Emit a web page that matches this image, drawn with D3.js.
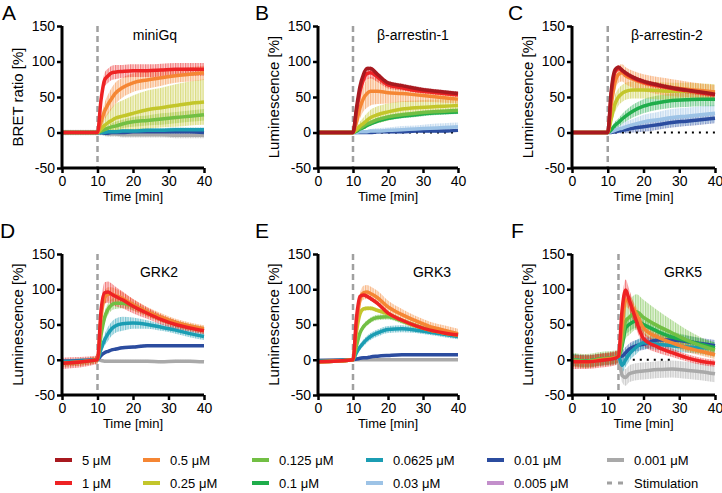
<!DOCTYPE html>
<html><head><meta charset="utf-8">
<script src="https://cdn.jsdelivr.net/npm/d3@7"></script>
<style>
body{margin:0;background:#fff;}
svg{display:block;font-family:"Liberation Sans",Arial,sans-serif;}
</style></head>
<body><svg id="chart" width="722" height="493"></svg>
<script>
// ---------- DATA ----------
const concentrations = ["5 μM","1 μM","0.5 μM","0.25 μM","0.125 μM","0.1 μM","0.0625 μM","0.03 μM","0.01 μM","0.005 μM","0.001 μM"];
const xTicks = [0,10,20,30,40];
const yTicks = [-50,0,50,100,150];
const timesMain = [0,10,11,12,13,14,15,17,20,24,28,32,36,40];
const timesGRK5 = [0,4,8,12,13,14,15,16,18,20,24,28,32,36,40];

const miniGqValues = {
  "1 μM":     [0,0,46,74,80,84,85,86,87,87,88,89,89,89],
  "0.5 μM":   [0,0,15,30,40,48,55,63,70,74,77,80,82,84],
  "0.25 μM":  [0,0,5,10,14,17,20,23,27,32,35,38,41,43],
  "0.125 μM": [0,0,2,4,6,8,9,12,15,17,19,21,23,25],
  "0.0625 μM":[0,0,0,0,1,1,1,2,2,3,3,4,4,4],
  "0.01 μM":  [0,0,0,-1,-1,0,0,0,1,1,1,1,1,0],
  "0.001 μM": [0,0,0,-1,-2,-2,-2,-3,-3,-3,-3,-4,-4,-4]
};
const miniGqErrors = {
  "1 μM":     [2,2,8,10,10,10,10,9,9,9,9,9,9,9],
  "0.5 μM":   [2,2,8,12,14,15,15,14,13,12,11,10,10,10],
  "0.25 μM":  [2,2,5,10,15,18,20,22,25,27,28,30,31,32],
  "0.125 μM": [2,2,2,3,4,5,6,6,7,7,8,8,8,8],
  "0.0625 μM":[3,3,3,3,3,3,3,3,3,3,3,3,3,3],
  "0.01 μM":  [3,3,3,3,3,3,3,3,3,3,3,3,3,3],
  "0.001 μM": [4,4,4,4,4,4,4,4,4,4,4,4,4,4]
};
const arr1Values = {
  "5 μM":     [0,0,35,65,82,90,90,82,70,66,62,59,57,55],
  "1 μM":     [0,0,30,58,75,83,84,78,67,63,59,57,55,53],
  "0.5 μM":   [0,0,15,35,48,55,58,58,56,55,53,51,49,47],
  "0.25 μM":  [0,0,4,9,13,17,21,25,29,33,35,36,37,38],
  "0.125 μM": [0,0,3,6,9,12,14,18,22,25,27,29,30,31],
  "0.1 μM":   [0,0,2,5,7,10,12,16,20,23,25,27,28,29],
  "0.03 μM":  [0,0,0,1,1,1,2,2,3,4,5,6,7,8],
  "0.01 μM":  [0,0,0,0,0,0,0,1,1,1,2,2,2,3]
};
const arr1Errors = {
  "5 μM":     [0,0,3,3,3,3,3,3,3,3,3,3,3,3],
  "1 μM":     [0,0,5,8,8,8,8,7,5,4,3,3,3,3],
  "0.5 μM":   [0,0,8,15,18,20,20,18,15,12,10,8,7,6],
  "0.25 μM":  [0,0,3,6,8,10,11,12,12,11,10,10,10,10],
  "0.125 μM": [0,0,2,3,3,3,3,3,3,3,3,3,3,3],
  "0.1 μM":   [0,0,2,3,3,3,3,3,3,3,3,3,3,3],
  "0.03 μM":  [0,0,1,2,2,3,3,4,4,5,5,6,6,6],
  "0.01 μM":  [0,0,1,1,2,2,2,2,2,2,2,2,2,2]
};
const arr2Values = {
  "5 μM":     [0,0,60,88,92,88,84,78,72,67,63,60,57,54],
  "1 μM":     [0,0,55,85,90,87,83,77,71,66,62,59,56,53],
  "0.5 μM":   [0,0,40,70,82,84,80,75,70,66,63,61,59,57],
  "0.25 μM":  [0,0,20,40,50,55,58,60,60,59,58,58,57,56],
  "0.1 μM":   [0,0,4,10,14,19,23,30,37,42,45,46,47,47],
  "0.03 μM":  [0,0,1,3,5,6,8,11,15,18,21,23,25,27],
  "0.01 μM":  [0,0,0,1,2,3,4,6,8,11,14,16,18,20]
};
const arr2Errors = {
  "5 μM":     [0,0,3,3,3,3,3,3,3,3,3,3,3,3],
  "1 μM":     [0,0,4,4,4,4,4,4,4,4,4,4,4,4],
  "0.5 μM":   [0,0,10,12,12,12,12,12,12,12,12,11,10,10],
  "0.25 μM":  [0,0,8,12,12,12,12,12,12,12,12,12,12,12],
  "0.1 μM":   [0,0,3,5,6,7,8,9,10,10,10,10,10,10],
  "0.03 μM":  [0,0,2,4,5,6,7,8,10,11,12,12,12,12],
  "0.01 μM":  [0,0,1,2,3,4,5,6,7,7,7,7,7,7]
};
const grk2Values = {
  "1 μM":     [-5,0,70,95,96,93,90,85,76,66,57,50,45,41],
  "0.5 μM":   [-5,0,60,88,93,93,91,87,78,68,60,53,48,44],
  "0.125 μM": [-5,0,35,60,72,78,80,80,76,67,58,51,46,42],
  "0.0625 μM":[-3,0,15,28,37,44,48,51,52,50,46,42,37,33],
  "0.01 μM":  [-2,0,6,10,12,14,15,17,18,20,20,20,20,20],
  "0.001 μM": [-2,0,-1,-2,-2,-2,-2,-2,-2,-2,-3,-2,-2,-3]
};
const grk2Errors = {
  "1 μM":     [8,6,10,15,15,15,14,12,10,8,7,6,5,5],
  "0.5 μM":   [5,5,8,10,10,10,10,9,8,7,6,5,5,5],
  "0.125 μM": [5,5,8,8,8,8,8,7,6,5,5,5,5,5],
  "0.0625 μM":[3,3,5,8,10,10,10,10,8,6,5,5,5,5],
  "0.01 μM":  [2,2,2,2,2,2,2,2,2,2,2,2,2,2],
  "0.001 μM": [2,2,2,2,2,2,2,2,2,2,2,2,2,2]
};
const grk3Values = {
  "1 μM":     [-3,0,60,90,92,90,87,80,66,56,48,42,38,35],
  "0.5 μM":   [-3,0,50,85,95,96,94,88,75,64,55,47,42,37],
  "0.25 μM":  [-3,0,40,65,72,73,73,70,65,56,48,42,38,35],
  "0.125 μM": [-3,0,20,38,47,52,56,60,61,55,48,42,38,35],
  "0.0625 μM":[-2,0,10,18,24,29,33,38,43,44,42,39,36,33],
  "0.01 μM":  [-1,0,1,2,3,3,4,5,6,7,7,7,7,7],
  "0.001 μM": [-1,0,0,0,0,0,0,0,0,0,0,0,0,0]
};
const grk3Errors = {
  "1 μM":     [2,2,3,3,3,3,3,3,3,3,3,3,3,3],
  "0.5 μM":   [2,2,6,8,10,10,10,10,9,8,7,7,7,7],
  "0.25 μM":  [2,2,3,3,3,3,3,3,3,3,3,3,3,3],
  "0.125 μM": [2,2,4,4,4,4,4,4,4,4,4,4,4,4],
  "0.0625 μM":[2,2,3,4,5,5,5,5,5,5,4,4,4,4],
  "0.01 μM":  [1,1,1,1,1,1,1,1,1,1,1,1,1,1],
  "0.001 μM": [1,1,1,1,1,1,1,1,1,1,1,1,1,1]
};
const grk5Values = {
  "1 μM":     [-3,-3,-1,2,5,70,99,85,55,30,18,10,3,-2,-5],
  "0.5 μM":   [-2,-3,0,3,5,45,85,82,65,45,32,24,17,12,7],
  "0.125 μM": [0,-2,1,3,5,25,55,60,68,60,48,38,28,20,14],
  "0.1 μM":   [0,-2,1,3,5,20,45,50,55,50,40,32,27,22,17],
  "0.0625 μM":[0,-2,0,3,5,-8,0,8,18,24,22,20,18,17,17],
  "0.01 μM":  [0,-2,0,2,4,5,10,15,20,22,28,28,26,23,20],
  "0.001 μM": [0,-2,0,2,3,-22,-25,-20,-17,-16,-14,-13,-15,-17,-20]
};
const grk5Errors = {
  "1 μM":     [10,10,10,10,10,15,15,15,12,10,8,6,5,5,5],
  "0.5 μM":   [8,8,8,8,8,10,10,10,10,8,7,6,6,6,6],
  "0.125 μM": [10,10,10,10,10,20,25,25,25,25,22,18,15,12,10],
  "0.1 μM":   [8,8,8,8,8,10,10,10,10,10,8,8,8,8,8],
  "0.0625 μM":[8,8,8,8,8,10,10,10,10,8,8,8,8,8,8],
  "0.01 μM":  [8,8,8,8,8,8,8,8,8,8,8,8,8,8,8],
  "0.001 μM": [8,8,8,8,8,10,12,12,12,12,12,12,12,12,12]
};

// ---------- STYLE ----------
const palette = {
  "5 μM":"#a8191f","1 μM":"#ee2224","0.5 μM":"#f58634","0.25 μM":"#c3c62b",
  "0.125 μM":"#72bf44","0.1 μM":"#1fad4b","0.0625 μM":"#1b9db3","0.03 μM":"#9dc3e6",
  "0.01 μM":"#2b4c9f","0.005 μM":"#c38fcb","0.001 μM":"#a9a9a9"
};

const panels = [
  {letter:"A",title:"miniGq",ylabel:"BRET ratio [%]",vals:miniGqValues,errs:miniGqErrors,times:timesMain,stim:10,dots:null,x0:62,x1:204,y0:26,y1:168,lx:2,ly:20,tx:155,ty:40},
  {letter:"B",title:"β-arrestin-1",ylabel:"Luminescence [%]",vals:arr1Values,errs:arr1Errors,times:timesMain,stim:10,dots:[12,40],x0:318,x1:458,y0:26,y1:168,lx:255,ly:20,tx:413,ty:40},
  {letter:"C",title:"β-arrestin-2",ylabel:"Luminescence [%]",vals:arr2Values,errs:arr2Errors,times:timesMain,stim:10,dots:[12,40],x0:572,x1:715,y0:26,y1:168,lx:508,ly:20,tx:667,ty:40},
  {letter:"D",title:"GRK2",ylabel:"Luminescence [%]",vals:grk2Values,errs:grk2Errors,times:timesMain,stim:10,dots:null,x0:62,x1:204,y0:254,y1:395,lx:0,ly:238,tx:159,ty:277},
  {letter:"E",title:"GRK3",ylabel:"Luminescence [%]",vals:grk3Values,errs:grk3Errors,times:timesMain,stim:10,dots:null,x0:318,x1:458,y0:254,y1:395,lx:255,ly:238,tx:432,ty:277},
  {letter:"F",title:"GRK5",ylabel:"Luminescence [%]",vals:grk5Values,errs:grk5Errors,times:timesGRK5,stim:13,dots:[17,28],x0:572,x1:715,y0:254,y1:395,lx:511,ly:238,tx:683,ty:277}
];

const svg = d3.select("#chart");
const defs = svg.append("defs");
concentrations.forEach((c,i) => {
  const pat = defs.append("pattern").attr("id","stripe"+i).attr("patternUnits","userSpaceOnUse")
    .attr("width",2.5).attr("height",10);
  pat.append("rect").attr("width",2.5).attr("height",10).attr("fill",palette[c]).attr("fill-opacity",0.18);
  pat.append("rect").attr("width",1.2).attr("height",10).attr("fill",palette[c]).attr("fill-opacity",0.5);
});

const fmt = d => d < 0 ? "-" + Math.abs(d) : String(d);

panels.forEach(p => {
  const x = d3.scaleLinear().domain([0,40]).range([p.x0,p.x1]);
  const y = d3.scaleLinear().domain([-50,150]).range([p.y1,p.y0]);
  const g = svg.append("g");

  const order = concentrations.slice().reverse().filter(c => p.vals[c]);
  order.forEach(c => {
    const pts = p.times.map((t,i)=>({t, v:p.vals[c][i], e:p.errs[c][i]}));
    g.append("path").datum(pts)
      .attr("d", d3.area().x(d=>x(d.t)).y0(d=>y(d.v-d.e)).y1(d=>y(d.v+d.e)).curve(d3.curveMonotoneX))
      .attr("fill", `url(#stripe${concentrations.indexOf(c)})`);
  });
  g.append("line").attr("x1",x(p.stim)).attr("x2",x(p.stim)).attr("y1",p.y0).attr("y2",p.y1)
    .attr("stroke","#a0a0a0").attr("stroke-width",2.5).attr("stroke-dasharray","6,4");
  if (p.dots) {
    g.append("line").attr("x1",x(p.dots[0])).attr("x2",x(p.dots[1])).attr("y1",y(0)).attr("y2",y(0))
      .attr("stroke","#000").attr("stroke-width",2).attr("stroke-dasharray","2,5");
  }
  order.forEach(c => {
    const pts = p.times.map((t,i)=>({t, v:p.vals[c][i]}));
    g.append("path").datum(pts)
      .attr("d", d3.line().x(d=>x(d.t)).y(d=>y(d.v)).curve(d3.curveMonotoneX))
      .attr("fill","none").attr("stroke", palette[c]).attr("stroke-width",3.5)
      .attr("stroke-linejoin","round");
  });

  const xa = g.append("g").attr("transform",`translate(0,${p.y1})`)
    .call(d3.axisBottom(x).tickValues(xTicks).tickFormat(fmt).tickSize(5).tickPadding(3));
  const ya = g.append("g").attr("transform",`translate(${p.x0},0)`)
    .call(d3.axisLeft(y).tickValues(yTicks).tickFormat(fmt).tickSize(5).tickPadding(2));
  [xa,ya].forEach(a => {
    a.select(".domain").attr("stroke","#000").attr("stroke-width",3);
    a.selectAll(".tick line").attr("stroke","#000").attr("stroke-width",2.5);
    a.selectAll(".tick text").attr("font-size",14).attr("fill","#000")
      .attr("font-family","'Liberation Sans',Arial,sans-serif");
  });
  xa.select(".domain").attr("d",`M${p.x0},0H${p.x1}`);
  ya.select(".domain").attr("d",`M0,${p.y1}V${p.y0}`);

  g.append("text").attr("x",(p.x0+p.x1)/2).attr("y",p.y1+33).attr("text-anchor","middle")
    .attr("font-size",13).text("Time [min]");
  g.append("text").attr("transform",`translate(${p.x0-39},${(p.y0+p.y1)/2}) rotate(-90)`)
    .attr("text-anchor","middle").attr("font-size",15).text(p.ylabel);
  g.append("text").attr("x",p.tx).attr("y",p.ty).attr("text-anchor","middle")
    .attr("font-size",14).text(p.title);
  g.append("text").attr("x",p.lx).attr("y",p.ly).attr("font-size",21).text(p.letter);
});

const legendItems = concentrations.concat(["Stimulation"]);
const colX = [55,143,252,366,487,607];
const rowY = [460,483];
legendItems.forEach((c,i) => {
  const col = Math.floor(i/2), row = i%2;
  const lx = colX[col], ly = rowY[row];
  const item = svg.append("g");
  if (c === "Stimulation") {
    item.append("line").attr("x1",lx).attr("x2",lx+17).attr("y1",ly).attr("y2",ly)
      .attr("stroke","#a0a0a0").attr("stroke-width",3).attr("stroke-dasharray","5,6");
  } else {
    item.append("line").attr("x1",lx).attr("x2",lx+17).attr("y1",ly).attr("y2",ly)
      .attr("stroke",palette[c]).attr("stroke-width",4);
  }
  item.append("text").attr("x",lx+27).attr("y",ly+5).attr("font-size",13).text(c);
});
</script></body></html>
